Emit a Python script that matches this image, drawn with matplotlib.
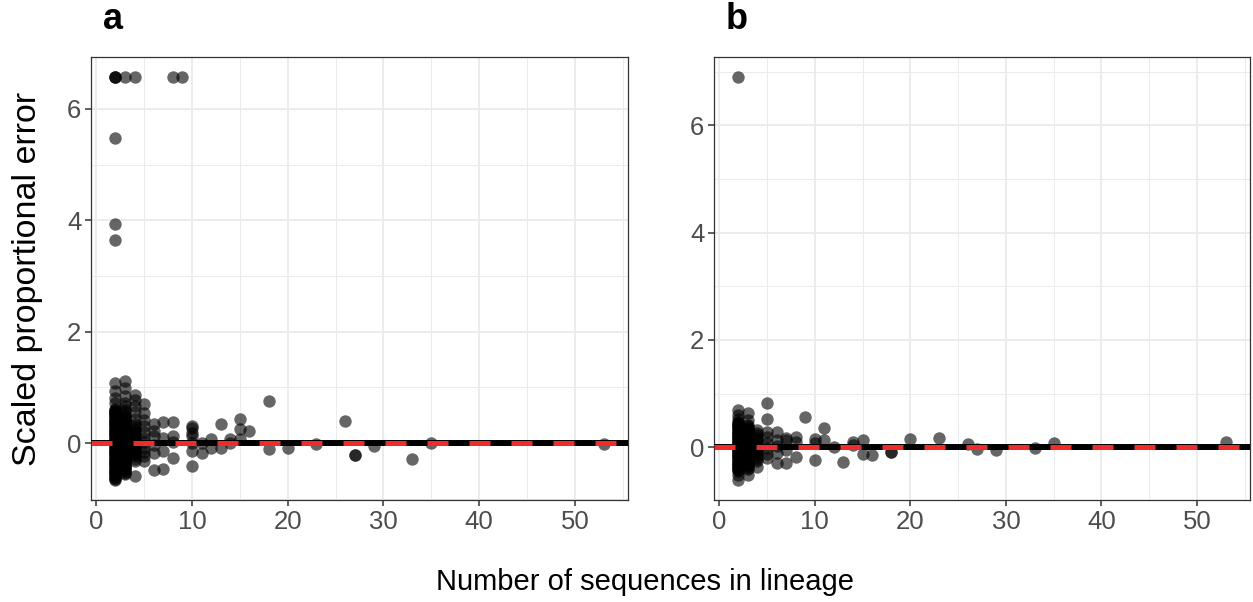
import matplotlib
matplotlib.use("Agg")
import matplotlib.pyplot as plt
from matplotlib.ticker import MultipleLocator
import numpy as np

plt.rcParams['font.family'] = ['Liberation Sans', 'DejaVu Sans']

# lineage sizes and the scaled proportional errors seen at each size
a_sizes = [2, 3, 4, 5, 6, 7, 8, 9, 10, 11, 12, 13, 14, 15, 16, 18, 20, 23, 26, 27, 29, 33, 35, 53]
a_errors = [
    [-0.66, -0.64, -0.62, -0.60, -0.58, -0.56, -0.54, -0.52, -0.50, -0.48, -0.46, -0.44, -0.42,
     -0.40, -0.38, -0.36, -0.34, -0.32, -0.30, -0.28, -0.26, -0.24, -0.22, -0.20, -0.18, -0.16,
     -0.14, -0.12, -0.10, -0.08, -0.06, -0.04, -0.02, 0.00, 0.02, 0.04, 0.06, 0.08, 0.10, 0.12,
     0.14, 0.16, 0.18, 0.20, 0.22, 0.24, 0.26, 0.28, 0.30, 0.32, 0.34, 0.36, 0.38, 0.40, 0.42,
     0.44, 0.46, 0.48, 0.50, 0.52, 0.54, 0.56, 0.58, 0.60, 0.62,
     0.72, 0.81, 0.93, 1.08, 3.65, 3.93, 5.47, 6.57, 6.57, 6.57],
    [-0.55, -0.53, -0.51, -0.49, -0.47, -0.45, -0.43, -0.41, -0.39, -0.37, -0.35, -0.33, -0.31,
     -0.29, -0.27, -0.25, -0.23, -0.21, -0.19, -0.17, -0.15, -0.13, -0.11, -0.09, -0.07, -0.05,
     -0.03, -0.01, 0.01, 0.03, 0.05, 0.07, 0.09, 0.11, 0.13, 0.15, 0.17, 0.19, 0.21, 0.23, 0.25,
     0.27, 0.29, 0.31, 0.33, 0.35, 0.37, 0.39, 0.41, 0.43, 0.45, 0.48, 0.51, 0.55,
     0.60, 0.66, 0.72, 0.84, 0.99, 1.12, 6.57],
    [0.87, 0.77, 0.66, 0.55, 0.44, 0.34, 0.30, 0.26, 0.22, 0.18, 0.14, 0.10, 0.06, 0.03, 0.00,
     -0.04, -0.07, -0.10, -0.13, -0.17, -0.20, -0.24, -0.28, -0.33, -0.59, 6.57],
    [0.70, 0.54, 0.42, 0.30, 0.20, 0.10, 0.02, -0.08, -0.16, -0.24, -0.32],
    [0.34, 0.21, 0.12, -0.04, -0.17, -0.49],
    [0.37, 0.10, -0.14, -0.47],
    [0.37, 0.12, 0.02, -0.26, 6.57],
    [6.57],
    [0.31, 0.27, 0.18, 0.12, 0.00, -0.14, -0.41],
    [0.00, -0.17],
    [0.07, -0.08],
    [0.34, -0.08],
    [0.07, 0.00],
    [0.44, 0.25, 0.07],
    [0.22],
    [0.75, -0.11],
    [-0.08],
    [-0.02],
    [0.39],
    [-0.21, -0.21],
    [-0.05],
    [-0.29],
    [0.01],
    [-0.02],
]

b_sizes = [2, 3, 4, 5, 6, 7, 8, 9, 10, 11, 12, 13, 14, 15, 16, 18, 20, 23, 26, 27, 29, 33, 35, 53]
b_errors = [
    [-0.61, -0.52, -0.45, -0.43, -0.41, -0.39, -0.37, -0.35, -0.33, -0.31, -0.29, -0.27, -0.25,
     -0.23, -0.21, -0.19, -0.17, -0.15, -0.13, -0.11, -0.09, -0.07, -0.05, -0.03, -0.01, 0.01,
     0.03, 0.05, 0.07, 0.09, 0.11, 0.13, 0.15, 0.17, 0.19, 0.21, 0.23, 0.25, 0.27, 0.29, 0.31,
     0.33, 0.35, 0.37, 0.39, 0.41, 0.43, 0.45, 0.47, 0.52, 0.60, 0.69, 6.90],
    [-0.52, -0.40, -0.38, -0.36, -0.34, -0.32, -0.30, -0.28, -0.26, -0.24, -0.22, -0.20, -0.18,
     -0.16, -0.14, -0.12, -0.10, -0.08, -0.06, -0.04, -0.02, 0.00, 0.02, 0.04, 0.06, 0.08, 0.10,
     0.12, 0.14, 0.16, 0.18, 0.20, 0.22, 0.24, 0.26, 0.28, 0.30, 0.32, 0.34, 0.36, 0.39, 0.42,
     0.50, 0.63],
    [0.32, 0.26, 0.22, 0.17, 0.13, 0.09, 0.05, 0.01, -0.03, -0.07, -0.10, -0.14, -0.18, -0.22,
     -0.26, -0.37],
    [0.83, 0.53, 0.28, 0.18, 0.08, -0.02, -0.12, -0.20],
    [0.28, 0.13, 0.03, -0.10, -0.30],
    [0.17, 0.13, -0.05, -0.30],
    [0.19, 0.10, -0.18],
    [0.56],
    [0.16, 0.07, -0.24],
    [0.35, 0.13],
    [0.00],
    [-0.27],
    [0.10, 0.04],
    [0.13, -0.12],
    [-0.15],
    [-0.09, -0.09],
    [0.16],
    [0.17],
    [0.06],
    [-0.04],
    [-0.06],
    [-0.02],
    [0.07],
    [0.10],
]


def flatten(sizes, errors):
    xs, ys = [], []
    for n, errs in zip(sizes, errors):
        xs += [n] * len(errs)
        ys += errs
    return np.array(xs, float), np.array(ys, float)


def expand(v):
    lo, hi = v.min(), v.max()
    pad = (hi - lo) * 0.05
    return lo - pad, hi + pad


def panel(ax, sizes, errors, label):
    x, y = flatten(sizes, errors)
    ax.scatter(x, y, s=80, color='black', alpha=0.6, linewidths=0, zorder=2)
    ax.axhline(0, color='black', lw=4.3, zorder=3)
    ax.axhline(0, color='#EE2C2C', lw=3.6, ls=(0, (4.2, 4.2)), zorder=4)

    ax.set_xlim(*expand(x))
    ax.set_ylim(*expand(y))
    ax.xaxis.set_major_locator(MultipleLocator(10))
    ax.xaxis.set_minor_locator(MultipleLocator(5))
    ax.yaxis.set_major_locator(MultipleLocator(2))
    ax.yaxis.set_minor_locator(MultipleLocator(1))
    ax.grid(which='major', color='#EBEBEB', lw=1.3, zorder=0)
    ax.grid(which='minor', color='#EBEBEB', lw=0.7, zorder=0)
    ax.set_axisbelow(True)
    ax.tick_params(which='major', length=4, width=1.1, color='#333333',
                   labelsize=18.5, labelcolor='#4D4D4D', pad=3)
    ax.tick_params(which='minor', length=0)
    for s in ax.spines.values():
        s.set_color('#333333')
        s.set_linewidth(0.9)
    ax.text(0.022, 1.045, label, transform=ax.transAxes, fontsize=26,
            fontweight='bold', va='bottom', ha='left')


W, H = 1253, 602
fig = plt.figure(figsize=(W / 100, H / 100), dpi=100)
ax_a = fig.add_axes([91 / W, (H - 500) / H, (628 - 91) / W, 443 / H])
ax_b = fig.add_axes([714 / W, (H - 500) / H, (1250 - 714) / W, 443 / H])

panel(ax_a, a_sizes, a_errors, 'a')
panel(ax_b, b_sizes, b_errors, 'b')

fig.text(28 / W, (H - 279) / H, 'Scaled proportional error', rotation=90,
         fontsize=24.5, ha='center', va='center')
fig.text(645 / W, (H - 582) / H, 'Number of sequences in lineage',
         fontsize=21, ha='center', va='center')

fig.savefig('out.png', dpi=100)
